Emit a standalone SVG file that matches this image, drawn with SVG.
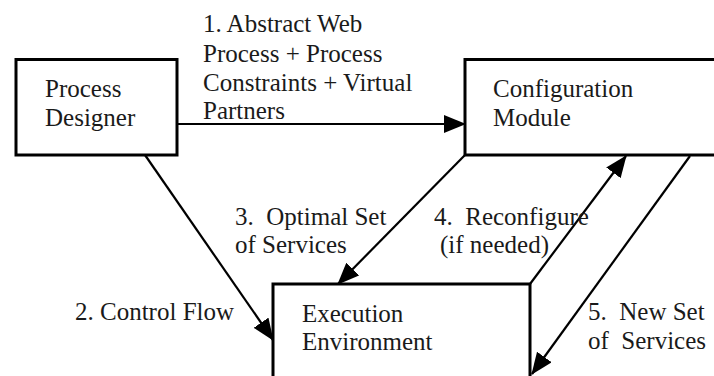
<svg xmlns="http://www.w3.org/2000/svg" width="714" height="376" viewBox="0 0 714 376">
<style>
.box{fill:#fff;stroke:#000;stroke-width:3}
.t{font-family:"Liberation Serif","Times New Roman",serif;font-size:25px;fill:#1a1a1a}
.c{stroke:#000;stroke-width:2.2;fill:none;marker-end:url(#ah)}
</style>
<defs>
<marker id="ah" markerUnits="userSpaceOnUse" markerWidth="22" markerHeight="18" viewBox="0 0 22 18" refX="21" refY="9" orient="auto">
<path d="M0,0 L22,9 L0,18 Z" fill="#000"/>
</marker>
</defs>
<rect width="714" height="376" fill="#fff"/>
<g id="process-designer">
<rect class="box" x="16" y="59.5" width="161" height="95.5"/>
<text class="t" x="45" y="97">Process</text>
<text class="t" x="45" y="126">Designer</text>
</g>
<g id="configuration-module">
<rect class="box" x="465" y="59.5" width="260" height="95.5"/>
<text class="t" x="493" y="97">Configuration</text>
<text class="t" x="493" y="126">Module</text>
</g>
<g id="execution-environment">
<rect class="box" x="273" y="284" width="257" height="110"/>
<text class="t" x="302" y="322">Execution</text>
<text class="t" x="302" y="350">Environment</text>
</g>
<g id="connectors">
<line class="c" x1="178" y1="124" x2="465" y2="124"/>
<line class="c" x1="145" y1="155" x2="273" y2="340"/>
<line class="c" x1="465" y1="155" x2="338" y2="284"/>
<line class="c" x1="530" y1="284" x2="626" y2="156"/>
<line class="c" x1="690" y1="156" x2="532" y2="374"/>
</g>
<g id="labels">
<text class="t" x="203" y="32">1. Abstract Web</text>
<text class="t" x="203" y="62">Process + Process</text>
<text class="t" x="203" y="91">Constraints + Virtual</text>
<text class="t" x="203" y="119">Partners</text>
<text class="t" x="75" y="320">2. Control Flow</text>
<text class="t" x="235" y="225">3.&#160; Optimal Set</text>
<text class="t" x="235" y="253">of Services</text>
<text class="t" x="434" y="225">4.&#160; Reconfigure</text>
<text class="t" x="440" y="253">(if needed)</text>
<text class="t" x="588" y="320">5.&#160; New Set</text>
<text class="t" x="588" y="349">of&#160; Services</text>
</g>
</svg>
